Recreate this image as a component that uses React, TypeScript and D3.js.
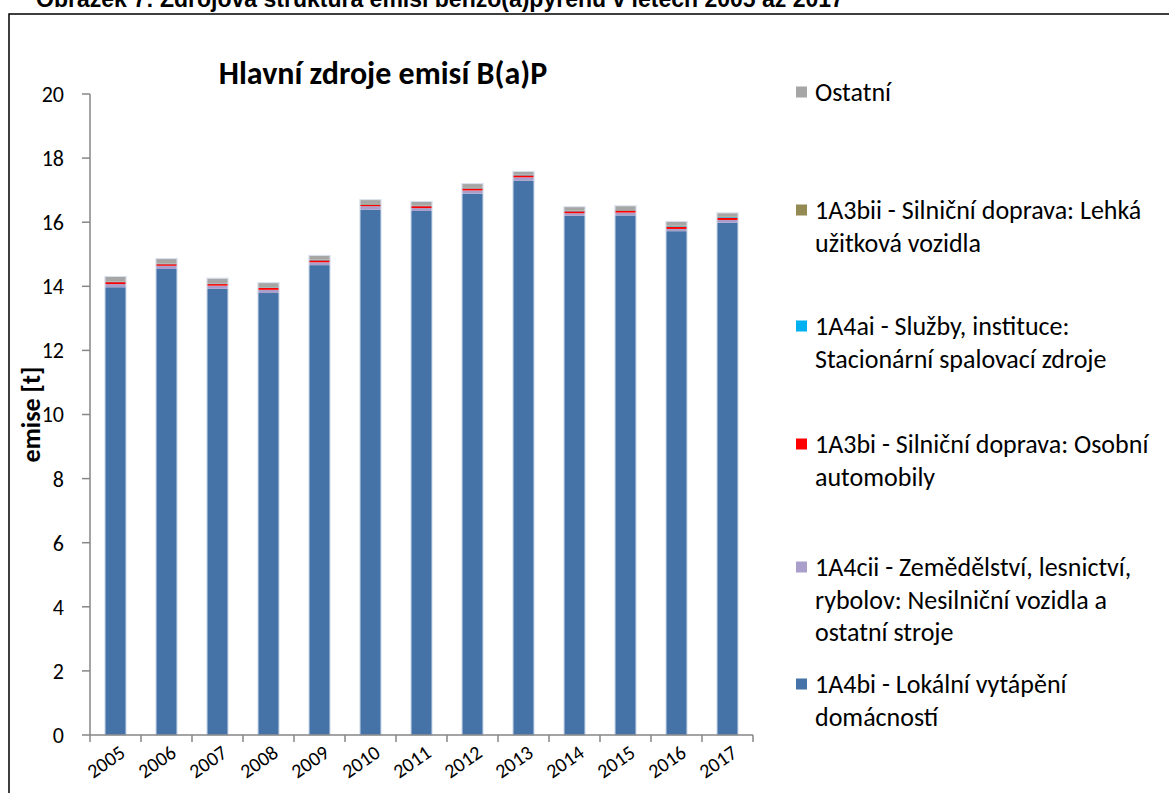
import * as d3 from "d3";

const years = ["2005", "2006", "2007", "2008", "2009", "2010", "2011", "2012", "2013", "2014", "2015", "2016", "2017"];

// bottom to top
const lokalniVytapeni = [13.97, 14.54, 13.92, 13.79, 14.66, 16.39, 16.35, 16.89, 17.29, 16.2, 16.21, 15.72, 15.98];
const zemedelstvi = [0.1, 0.1, 0.1, 0.1, 0.09, 0.11, 0.09, 0.1, 0.11, 0.08, 0.09, 0.07, 0.09];
const osobniAutomobily = [0.06, 0.05, 0.05, 0.06, 0.06, 0.04, 0.06, 0.06, 0.06, 0.06, 0.06, 0.06, 0.07];
const sluzby = [0.01, 0.01, 0.01, 0.01, 0.01, 0.01, 0.01, 0.01, 0.01, 0.01, 0.01, 0.02, 0.02];
const lehkaVozidla = [0.01, 0.01, 0.01, 0.01, 0.01, 0.02, 0.01, 0.01, 0.01, 0.01, 0.01, 0.02, 0.02];
const ostatni = [0.14, 0.14, 0.15, 0.13, 0.12, 0.12, 0.11, 0.12, 0.09, 0.11, 0.12, 0.12, 0.1];

const yTicks = [0, 2, 4, 6, 8, 10, 12, 14, 16, 18, 20];

const series = [
  { key: "bi", values: lokalniVytapeni, color: "#4572A7", label: ["1A4bi - Lokální vytápění", "domácností"] },
  { key: "cii", values: zemedelstvi, color: "#AA9FCB", label: ["1A4cii - Zemědělství, lesnictví,", "rybolov: Nesilniční vozidla a", "ostatní stroje"] },
  { key: "a3bi", values: osobniAutomobily, color: "#FF0000", label: ["1A3bi - Silniční doprava: Osobní", "automobily"] },
  { key: "ai", values: sluzby, color: "#00B0F0", label: ["1A4ai - Služby, instituce:", "Stacionární spalovací zdroje"] },
  { key: "bii", values: lehkaVozidla, color: "#948A54", label: ["1A3bii - Silniční doprava: Lehká", "užitková vozidla"] },
  { key: "ost", values: ostatni, color: "#A6A6A6", label: ["Ostatní"] },
];

// legend entries top to bottom, first-line centre y
const legendY = [92, 210, 326, 444, 567, 684];

const W = 1169;
const H = 793;
const left = 90;
const right = 753;
const top = 94;
const bottom = 735;
const font = "Calibri, Carlito, Lato, sans-serif";

export default function App() {
  const x = d3.scaleBand<string>().domain(years).range([left, right]).paddingInner(0.6).paddingOuter(0.3);
  const y = d3.scaleLinear().domain([0, 20]).range([bottom, top]);

  const rows = years.map((yr, i) => {
    const r: Record<string, number | string> = { year: yr };
    series.forEach((s) => (r[s.key] = s.values[i]));
    return r;
  });
  const stacked = d3.stack<Record<string, number | string>>().keys(series.map((s) => s.key))(rows as any);
  const step = x.step();

  return (
    <svg width={W} height={H} style={{ position: "absolute", left: 0, top: 0, background: "#fff" }}>
      <text x={36} y={7} fontFamily="Liberation Sans, Arial, sans-serif" fontWeight="bold" fontSize={23}>
        Obrázek 7: Zdrojová struktura emisí benzo(a)pyrenu v letech 2005 až 2017
      </text>
      <rect x={9} y={14} width={W} height={H} fill="none" stroke="#000" strokeWidth={1.5} />

      <text x={383} y={84} textAnchor="middle" fontFamily={font} fontWeight="bold" fontSize={32}>
        Hlavní zdroje emisí B(a)P
      </text>

      {stacked.map((layer, li) => (
        <g key={layer.key} fill={series[li].color}>
          {layer.map((d, i) => (
            <rect
              key={years[i]}
              x={x(years[i])!}
              y={y(d[1])}
              width={x.bandwidth()}
              height={Math.max(0, y(d[0]) - y(d[1]))}
            />
          ))}
        </g>
      ))}
      {/* light bar edges */}
      {years.map((yr, i) => {
        const total = stacked[stacked.length - 1][i][1];
        return (
          <rect
            key={yr}
            x={x(yr)! - 0.5}
            y={y(total) - 0.5}
            width={x.bandwidth() + 1}
            height={bottom - y(total) + 0.5}
            fill="none"
            stroke="#c6d3e6"
            strokeOpacity={0.7}
            strokeWidth={1}
          />
        );
      })}

      {/* y axis */}
      <line x1={left} x2={left} y1={top} y2={bottom} stroke="#868686" strokeWidth={1.5} />
      {yTicks.map((t) => (
        <g key={t}>
          <line x1={left - 8} x2={left} y1={y(t)} y2={y(t)} stroke="#868686" strokeWidth={1.5} />
          <text x={64} y={y(t)} dy="0.36em" textAnchor="end" fontFamily={font} fontSize={22}>
            {t}
          </text>
        </g>
      ))}
      <text
        transform={`translate(40,${(top + bottom) / 2}) rotate(-90)`}
        textAnchor="middle"
        fontFamily={font}
        fontWeight="bold"
        fontSize={26}
      >
        emise [t]
      </text>

      {/* x axis */}
      <line x1={left} x2={right} y1={bottom} y2={bottom} stroke="#868686" strokeWidth={1.5} />
      {d3.range(years.length + 1).map((i) => (
        <line key={i} x1={left + i * step} x2={left + i * step} y1={bottom} y2={bottom + 7} stroke="#868686" strokeWidth={1.5} />
      ))}
      {years.map((yr) => (
        <text
          key={yr}
          transform={`translate(${x(yr)! + x.bandwidth() / 2 + 7},${bottom + 15}) rotate(-35)`}
          textAnchor="end"
          dy="0.35em"
          fontFamily={font}
          fontSize={20}
        >
          {yr}
        </text>
      ))}

      {/* legend */}
      {series
        .slice()
        .reverse()
        .map((s, i) => (
          <g key={s.key}>
            <rect x={796} y={legendY[i] - 5.5} width={11} height={11} fill={s.color} />
            {s.label.map((line, j) => (
              <text key={j} x={815} y={legendY[i] + j * 32.5} dy="0.35em" fontFamily={font} fontSize={26}>
                {line}
              </text>
            ))}
          </g>
        ))}
    </svg>
  );
}
